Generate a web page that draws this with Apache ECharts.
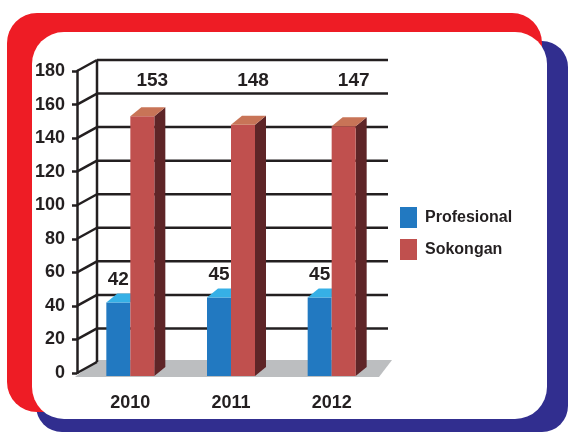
<!DOCTYPE html>
<html>
<head>
<meta charset="utf-8">
<style>
html, body { margin: 0; padding: 0; background: #fff; }
#chart { width: 568px; height: 432px; }
</style>
<script src="https://cdn.jsdelivr.net/npm/echarts@6/dist/echarts.min.js"></script>
</head>
<body>
<div id="chart"></div>
<script>
var years = ['2010', '2011', '2012'];
var profesional = [42, 45, 45];
var sokongan = [153, 148, 147];
var yTicks = [0, 20, 40, 60, 80, 100, 120, 140, 160, 180];

var ink = '#231f20';
var FONT = '"Liberation Sans", Arial, sans-serif';
var DX = 11, DY = -9;   // bar depth
var WX = 20, WY = -11;  // wall depth
var BAR = 24;

function face(points, color) {
    return { type: 'polygon', shape: { points: points }, style: { fill: color } };
}

// side < 0 -> bar sits left of the band centre, otherwise right
function renderBar(side, colors, labelOnTopRow) {
    return function (params, api) {
        var i = api.value(0), v = api.value(1);
        var top = api.coord([i, v]);
        var base = api.coord([i, 0]);
        var x0 = side < 0 ? top[0] - BAR : top[0];
        var x1 = x0 + BAR;
        var y0 = top[1], y1 = base[1] + 3;
        var children = [];
        if (colors[2]) {
            children.push(face([[x1, y0], [x1 + DX, y0 + DY], [x1 + DX, y1 + DY], [x1, y1]], colors[2]));
        }
        children.push(face([[x0, y1], [x1, y1], [x1, y0], [x0, y0]], colors[0]));
        children.push(face([[x0, y0], [x1, y0], [x1 + DX, y0 + DY], [x0 + DX, y0 + DY]], colors[1]));
        var ly = labelOnTopRow ? api.coord([i, 180])[1] + 10 : y0 - 23;
        var lx = (x0 + x1) / 2 + (labelOnTopRow ? 10 : 0);
        children.push({
            type: 'text', x: lx, y: ly,
            style: { text: String(v), font: 'bold 19px ' + FONT, fill: ink, align: 'center', verticalAlign: 'middle' }
        });
        return { type: 'group', children: children };
    };
}

function renderWall(params, api) {
    var v = api.value(1);
    var cs = params.coordSys;
    var fx = cs.x - 3;
    var y = api.coord([0, v])[1];
    var right = cs.x + cs.width + 6;
    var line = { stroke: ink, lineWidth: 2.5 };
    var children = [];
    if (v === 0) {
        var yt = api.coord([0, 180])[1];
        children.push(face([[fx - 2, y + 4], [right - 9, y + 4], [right + 4, y + WY - 2], [fx + WX, y + WY - 2]], '#bcbec0'));
        children.push({ type: 'line', shape: { x1: fx + WX, y1: y + WY, x2: fx + WX, y2: yt + WY }, style: line });
    } else {
        children.push({ type: 'line', shape: { x1: fx + WX, y1: y + WY, x2: right, y2: y + WY }, style: line });
    }
    children.push({ type: 'line', shape: { x1: fx, y1: y, x2: fx + WX, y2: y + WY }, style: line });
    return { type: 'group', children: children };
}

var chart = echarts.init(document.getElementById('chart'));

var option = {
    animation: false,
    graphic: [
        { type: 'rect', z: -10, shape: { x: 36, y: 41, width: 532, height: 391, r: 26 }, style: { fill: '#312e8f' } },
        { type: 'rect', z: -9, shape: { x: 7, y: 13, width: 535, height: 399, r: 30 }, style: { fill: '#ee1c25' } },
        { type: 'rect', z: -8, shape: { x: 32, y: 32, width: 515, height: 387, r: 32 }, style: { fill: '#ffffff' } }
    ],
    legend: {
        data: ['Profesional', 'Sokongan'],
        orient: 'vertical',
        left: 395,
        top: 202,
        icon: 'rect',
        itemWidth: 17,
        itemHeight: 21,
        itemGap: 11,
        selectedMode: false,
        textStyle: { color: ink, fontSize: 16, fontWeight: 'bold', fontFamily: FONT, padding: [0, 0, 0, 3] }
    },
    grid: { left: 80, top: 71, width: 302, bottom: 59 },
    xAxis: {
        type: 'category',
        data: years,
        axisLine: { show: false },
        axisTick: { show: false },
        axisLabel: { margin: 21, color: ink, fontSize: 18, fontWeight: 'bold', fontFamily: FONT }
    },
    yAxis: {
        type: 'value',
        min: 0,
        max: 180,
        interval: 20,
        offset: 3,
        axisLine: { show: true, lineStyle: { color: ink, width: 2.5 } },
        axisTick: { show: true, length: 5, lineStyle: { color: ink, width: 2.5 } },
        splitLine: { show: false },
        axisLabel: { margin: 12, color: ink, fontSize: 18, fontWeight: 'bold', fontFamily: FONT }
    },
    series: [
        {
            type: 'custom',
            silent: true,
            z: 1,
            renderItem: renderWall,
            data: yTicks.map(function (v) { return [0, v]; })
        },
        {
            name: 'Profesional',
            type: 'custom',
            z: 3,
            itemStyle: { color: '#2279c1' },
            renderItem: renderBar(-1, ['#2279c1', '#36b0e6'], false),
            data: profesional.map(function (v, i) { return [i, v]; })
        },
        {
            name: 'Sokongan',
            type: 'custom',
            z: 4,
            itemStyle: { color: '#c0504e' },
            renderItem: renderBar(1, ['#c0504e', '#c87457', '#5e2527'], true),
            data: sokongan.map(function (v, i) { return [i, v]; })
        }
    ]
};

chart.setOption(option);
</script>
</body>
</html>
